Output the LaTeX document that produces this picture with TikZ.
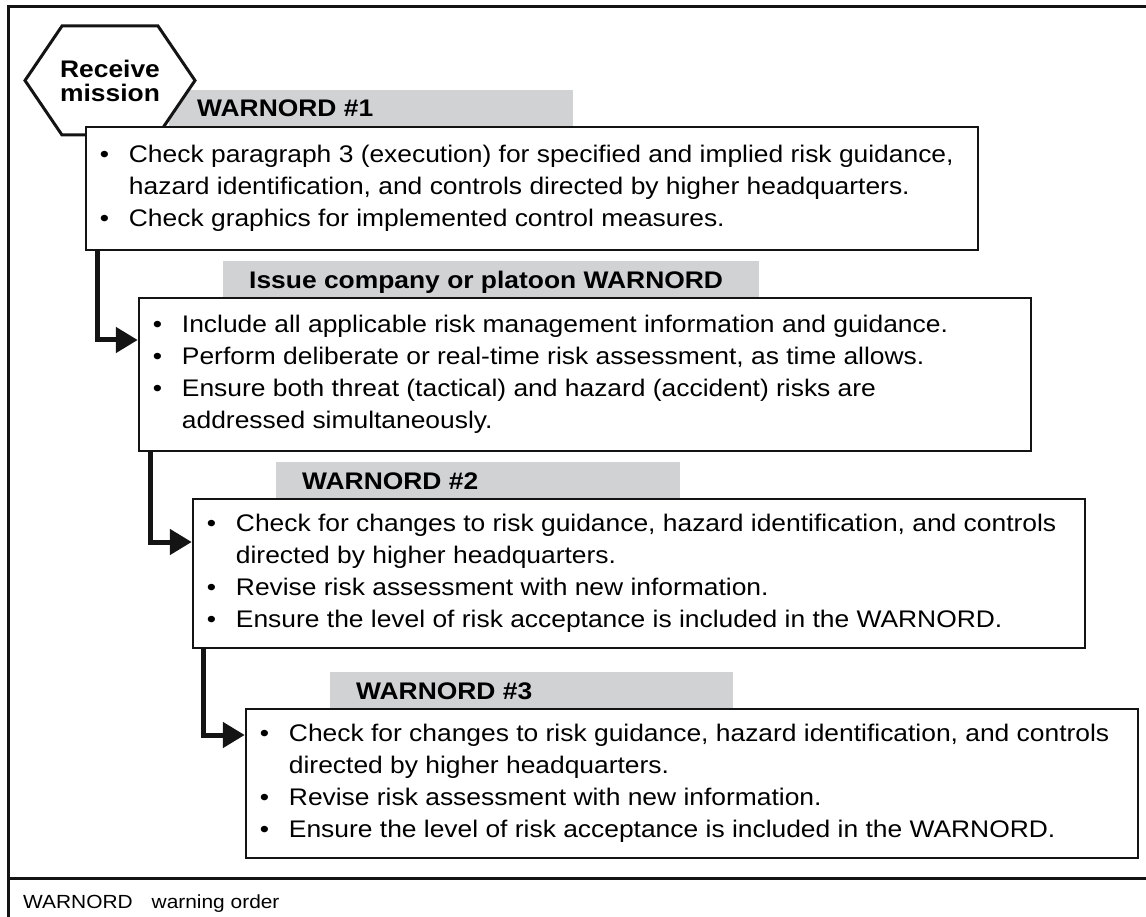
\documentclass[tikz,border=0pt]{standalone}
\usepackage{fontspec}
\setmainfont{Liberation Sans}[FakeStretch=1.1]
\usetikzlibrary{arrows.meta}
\definecolor{bargray}{RGB}{209,210,212}
\definecolor{inkc}{RGB}{20,20,20}
\newcommand{\bodyfont}{\fontsize{24}{32}\selectfont}
\newcommand{\titlefont}{\fontsize{24}{24}\selectfont\bfseries}
\newcommand{\footfont}{\fontsize{19}{24}\selectfont}
\tikzset{
  box/.style={draw=inkc, line width=2.5pt, fill=white, minimum width=892pt, inner sep=0pt},
  bar/.style={fill=bargray, inner sep=0pt, minimum height=37pt},
  title/.style={anchor=base west, inner sep=0pt, font=\titlefont},
  body/.style={anchor=west, inner sep=0pt, font=\bodyfont},
  conn/.style={draw=inkc, line width=5pt, line join=miter, -{Triangle[length=22pt,width=25pt]}},
  frameline/.style={draw=inkc, line width=3pt},
}
\begin{document}
\begin{tikzpicture}[x=1pt,y=-1pt]
\useasboundingbox (0,0) rectangle (1146,917);
\begin{scope}
  \clip (0,0) rectangle (1146,917);
  \draw[frameline, line join=miter] (8,960) -- (8,7) -- (1200,7);
  \draw[frameline] (8,878) -- (1200,878);
\end{scope}

% grey title bars
\node[bar, minimum width=404pt] (bar1) at (371,108.5) {};
\node[bar, minimum width=536pt] (bar2) at (491,279.5) {};
\node[bar, minimum width=404pt] (bar3) at (478,480.5) {};
\node[bar, minimum width=403pt] (bar4) at (531.5,690.5) {};

% receive mission hexagon
\path[draw=inkc, line width=3pt, fill=white, line join=miter]
  (25,80.5) -- (62,26) -- (158,26) -- (195,80.5) -- (158,135) -- (62,135) -- cycle;
\node[inner sep=0pt, align=center, font=\titlefont] (hex) at (110,80.5) {Receive\\mission};

% titles
\node[title] (t1) at (197,117) {WARNORD \#1};
\node[title] (t2) at (249,288.5) {Issue company or platoon WARNORD};
\node[title] (t3) at (302,489) {WARNORD \#2};
\node[title] (t4) at (356,699) {WARNORD \#3};

% boxes
\node[box, minimum height=123pt] (b1) at (532,188.5) {};
\node[box, minimum height=153pt] (b2) at (585,374.5) {};
\node[box, minimum height=149pt] (b3) at (639,573.5) {};
\node[box, minimum height=149pt] (b4) at (692,783.5) {};

% box texts
\node[body] (x1) at ([xshift=15pt]b1.west) {\begin{tabular}{@{}p{29pt}@{}l@{}}
\textbullet & Check paragraph 3 (execution) for specified and implied risk guidance,\\
 & hazard identification, and controls directed by higher headquarters.\\
\textbullet & Check graphics for implemented control measures.
\end{tabular}};
\node[body] (x2) at ([xshift=15pt]b2.west) {\begin{tabular}{@{}p{29pt}@{}l@{}}
\textbullet & Include all applicable risk management information and guidance.\\
\textbullet & Perform deliberate or real-time risk assessment, as time allows.\\
\textbullet & Ensure both threat (tactical) and hazard (accident) risks are\\
 & addressed simultaneously.
\end{tabular}};
\node[body] (x3) at ([xshift=15pt]b3.west) {\begin{tabular}{@{}p{29pt}@{}l@{}}
\textbullet & Check for changes to risk guidance, hazard identification, and controls\\
 & directed by higher headquarters.\\
\textbullet & Revise risk assessment with new information.\\
\textbullet & Ensure the level of risk acceptance is included in the WARNORD.
\end{tabular}};
\node[body] (x4) at ([xshift=15pt]b4.west) {\begin{tabular}{@{}p{29pt}@{}l@{}}
\textbullet & Check for changes to risk guidance, hazard identification, and controls\\
 & directed by higher headquarters.\\
\textbullet & Revise risk assessment with new information.\\
\textbullet & Ensure the level of risk acceptance is included in the WARNORD.
\end{tabular}};

% connectors
\coordinate (k1) at (97,340);
\coordinate (k2) at (150,542);
\coordinate (k3) at (203,735);
\draw[conn] (k1 |- b1.south) -- (k1) -- (b2.west |- k1);
\draw[conn] (k2 |- b2.south) -- (k2) -- (b3.west |- k2);
\draw[conn] (k3 |- b3.south) -- (k3) -- (b4.west |- k3);

% footer
\node[anchor=base west, inner sep=0pt, font=\footfont] (foot) at (23,908) {WARNORD\hspace{19pt}warning order};
\end{tikzpicture}
\end{document}
